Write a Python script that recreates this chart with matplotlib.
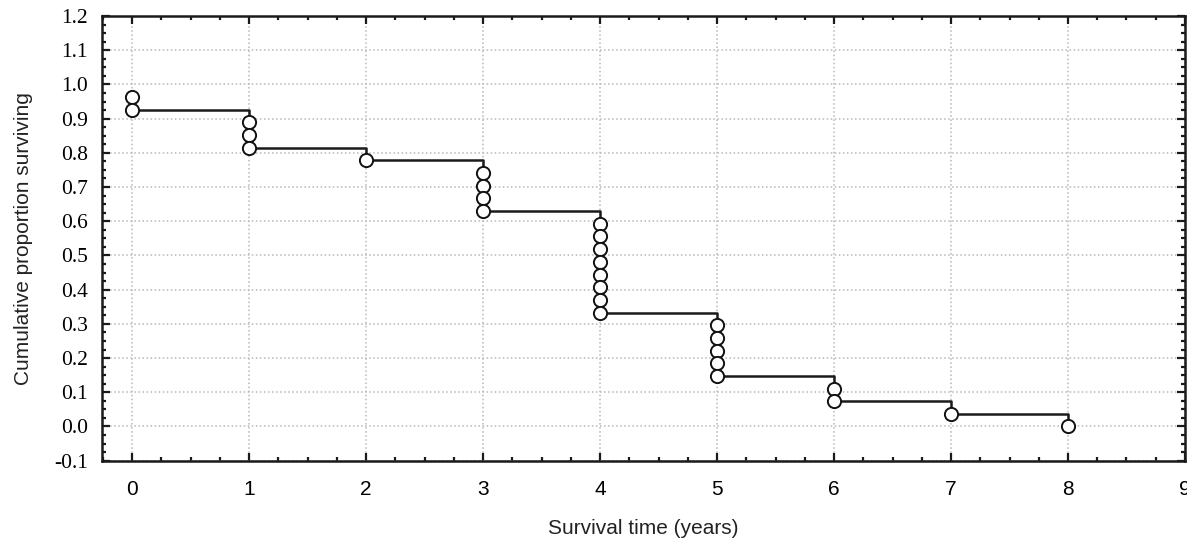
'''Kaplan-Meier style survival plot'''

import matplotlib
matplotlib.use('Agg')
import matplotlib.pyplot as plt
from matplotlib.ticker import AutoMinorLocator

# survival time of each event (years) and cumulative proportion surviving after it
times = [0, 0, 1, 1, 1, 2, 3, 3, 3, 3,
         4, 4, 4, 4, 4, 4, 4, 4,
         5, 5, 5, 5, 5, 6, 6, 7, 8]
surviving = [0.963, 0.926, 0.889, 0.852, 0.815, 0.778, 0.741, 0.704, 0.667, 0.630,
             0.593, 0.556, 0.519, 0.481, 0.444, 0.407, 0.370, 0.333,
             0.296, 0.259, 0.222, 0.185, 0.148, 0.111, 0.074, 0.037, 0.000]

x_ticks = list(range(0, 10))
y_ticks = [-0.1, 0.0, 0.1, 0.2, 0.3, 0.4, 0.5, 0.6, 0.7, 0.8, 0.9, 1.0, 1.1, 1.2]

fig = plt.figure(figsize=(11.87, 5.42), dpi=100)
ax = fig.add_axes([0.0857, 0.150, 0.9126, 0.8205])

ax.plot(times, surviving, drawstyle='steps-post', color='#1a1a1a', linewidth=1.8, zorder=3)
ax.plot(times, surviving, linestyle='none', marker='o', markersize=9.5,
        markerfacecolor='white', markeredgecolor='#111111', markeredgewidth=1.4, zorder=4)

ax.set_xlim(-0.26, 9.0)
ax.set_ylim(-0.1, 1.2)
ax.set_xticks(x_ticks)
ax.set_yticks(y_ticks)
ax.set_yticklabels(['%.1f' % v for v in y_ticks])
ax.xaxis.set_minor_locator(AutoMinorLocator(4))
ax.yaxis.set_minor_locator(AutoMinorLocator(4))

ax.grid(True, which='major', color='#b8b8b8', linestyle=':', linewidth=1.1)
ax.set_axisbelow(True)

for s in ax.spines.values():
    s.set_linewidth(1.8)
    s.set_color('#1a1a1a')

ax.tick_params(which='both', direction='in', top=True, right=True, color='#1a1a1a')
ax.tick_params(which='major', length=6, width=1.6)
ax.tick_params(which='minor', length=3, width=1.6)
ax.tick_params(axis='y', which='major', pad=10)
ax.tick_params(axis='x', which='major', pad=14)

for lab in ax.get_yticklabels():
    lab.set_fontfamily('Liberation Serif')
    lab.set_fontsize(15.5)
for lab in ax.get_xticklabels():
    lab.set_fontfamily('Liberation Sans')
    lab.set_fontsize(15)

ax.set_xlabel('Survival time (years)', fontfamily='Liberation Sans', fontsize=15, color='#222222')
ax.set_ylabel('Cumulative proportion surviving', fontfamily='Liberation Sans', fontsize=15, color='#222222')
ax.xaxis.set_label_coords(0.5, -0.13)
ax.yaxis.set_label_coords(-0.0634, 0.5)

fig.savefig('out.png', dpi=100)
